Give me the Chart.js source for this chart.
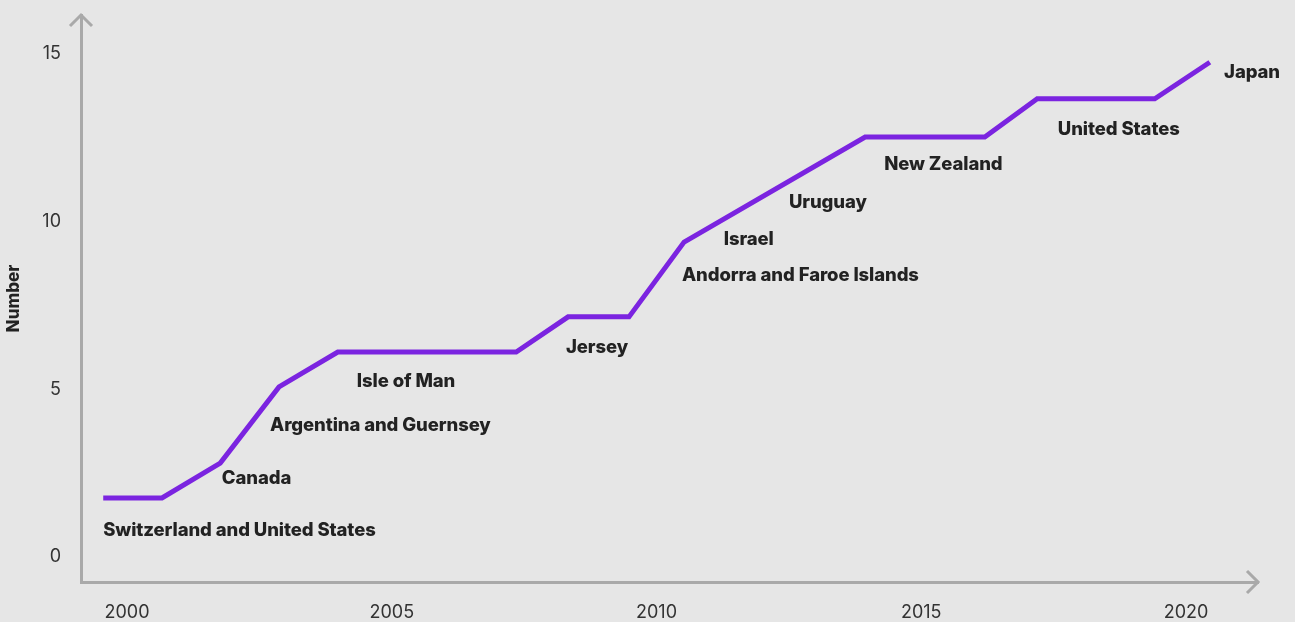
<!DOCTYPE html>
<html>
<head>
<meta charset="utf-8">
<script src="https://cdn.jsdelivr.net/npm/chart.js@4"></script>
<style>
  html, body { margin: 0; padding: 0; background: #e6e6e6; }
  #wrap { width: 1295px; height: 622px; }
</style>
</head>
<body>
<div id="wrap"><canvas id="chart" width="1295" height="622"></canvas></div>
<script>
// year of each vertex on the line and the count
const years  = [1999.55, 2000.66, 2001.76, 2002.87, 2003.98, 2007.35, 2008.33, 2009.48, 2010.52, 2013.94, 2016.2, 2017.19, 2019.41, 2020.45];
const counts = [1.76, 1.76, 2.8, 5.07, 6.11, 6.11, 7.16, 7.16, 9.39, 12.52, 12.52, 13.66, 13.66, 14.75];

// country annotations (anchor in year / count units)
const labelTexts  = ['Switzerland and United States', 'Canada', 'Argentina and Guernsey', 'Isle of Man', 'Jersey',
                     'Andorra and Faroe Islands', 'Israel', 'Uruguay', 'New Zealand', 'United States', 'Japan'];
const labelYears  = [1999.55, 2001.79, 2002.70, 2004.34, 2008.29, 2010.48, 2011.27, 2012.50, 2014.30, 2017.58, 2020.72];
const labelCounts = [0.78, 2.33, 3.91, 5.22, 6.26, 8.41, 9.48, 10.58, 11.69, 12.76, 14.45];

const xTicks = [2000, 2005, 2010, 2015, 2020];
const yTicks = [0, 5, 10, 15];

const axisColor = '#a9a9a9';
const textColor = '#222222';

// etiquetas de los países
const countryLabels = {
  id: 'countryLabels',
  afterDatasetsDraw(chart) {
    const ctx = chart.ctx;
    const xs = chart.scales.x, ys = chart.scales.y;
    ctx.save();
    ctx.font = '800 18.5px Inter, "Noto Sans", sans-serif';
    ctx.letterSpacing = '-0.1px';
    ctx.fillStyle = textColor;
    ctx.textAlign = 'left';
    ctx.textBaseline = 'middle';
    labelTexts.forEach((t, i) => {
      ctx.fillText(t, xs.getPixelForValue(labelYears[i]), ys.getPixelForValue(labelCounts[i]));
    });
    ctx.letterSpacing = '0px';
    ctx.restore();
  }
};

// flechas al final de los ejes
const axisArrows = {
  id: 'axisArrows',
  afterDraw(chart) {
    const { left, top, right, bottom } = chart.chartArea;
    const ctx = chart.ctx;
    ctx.save();
    ctx.strokeStyle = axisColor;
    ctx.lineWidth = 3;
    ctx.beginPath();
    ctx.moveTo(left - 11, top + 11);
    ctx.lineTo(left, top);
    ctx.lineTo(left + 11, top + 11);
    ctx.moveTo(right - 11, bottom - 11);
    ctx.lineTo(right, bottom);
    ctx.lineTo(right - 11, bottom + 11);
    ctx.stroke();
    ctx.restore();
  }
};

new Chart(document.getElementById('chart'), {
  type: 'line',
  data: {
    datasets: [{
      data: years.map((y, i) => ({ x: y, y: counts[i] })),
      borderColor: '#7b24e0',
      borderWidth: 5,
      pointRadius: 0,
      tension: 0,
      fill: false
    }]
  },
  options: {
    responsive: false,
    animation: false,
    layout: { padding: { top: 15, right: 37, left: 0, bottom: 0 } },
    plugins: { legend: { display: false }, tooltip: { enabled: false } },
    scales: {
      x: {
        type: 'linear',
        min: 1999.13,
        max: 2021.36,
        grid: { display: false, drawTicks: false },
        border: { display: true, color: axisColor, width: 3 },
        afterBuildTicks: s => { s.ticks = xTicks.map(v => ({ value: v })); },
        afterFit: s => { s.height = 40; s.paddingLeft = 0; s.paddingRight = 0; },
        ticks: {
          padding: 20,
          color: '#333',
          font: { family: 'Inter, "Noto Sans", sans-serif', size: 18 },
          callback: v => String(v)
        }
      },
      y: {
        min: -0.745,
        max: 16.16,
        grid: { display: false, drawTicks: false },
        border: { display: true, color: axisColor, width: 3 },
        afterBuildTicks: s => { s.ticks = yTicks.map(v => ({ value: v })); },
        afterFit: s => { s.width = 81; s.paddingTop = 0; s.paddingBottom = 0; },
        ticks: {
          padding: 20,
          color: '#333',
          font: { family: 'Inter, "Noto Sans", sans-serif', size: 18 }
        },
        title: {
          display: true,
          text: 'Number',
          color: textColor,
          padding: { top: 4, bottom: 0 },
          font: { family: 'Inter, "Noto Sans", sans-serif', size: 17, weight: '800' }
        }
      }
    }
  },
  plugins: [countryLabels, axisArrows]
});
</script>
</body>
</html>
